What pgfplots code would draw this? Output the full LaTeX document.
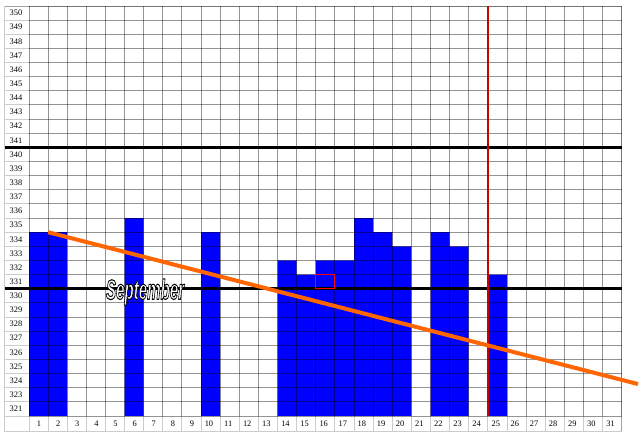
\documentclass[border=0pt]{standalone}
\usepackage{fontspec}
\setmainfont{Liberation Serif}
\newfontfamily\sepfont{Liberation Sans}
\usepackage{pgfplots}
\pgfplotsset{compat=1.18}

\definecolor{barblue}{RGB}{0,0,255}
\definecolor{trend}{RGB}{255,102,0}
\definecolor{redline}{RGB}{200,0,0}

% white letters with a black outline (text render mode 2)
\newcommand{\outlined}[1]{\textcolor{white}{\special{pdf:literal direct 0 G 0.8 w 1 j 2 Tr}#1\special{pdf:literal direct 0 Tr}}}

\begin{document}
\begin{tikzpicture}
\begin{axis}[
  scale only axis,width=444.5pt,height=307.5pt,
  xmin=0,xmax=31,ymin=0,ymax=29,
  hide axis,clip=false,
  ybar,bar width=1,
]
% bars: top of each column, in rows above the 321 row
\addplot[draw=none,fill=barblue] coordinates {
  (0.5,13) (1.5,13) (5.5,14) (9.5,13) (13.5,11) (14.5,10) (15.5,11)
  (16.5,11) (17.5,14) (18.5,13) (19.5,12) (21.5,13) (22.5,12) (24.5,10)
};
% grid
\pgfplotsinvokeforeach{0,...,31}{
  \draw[black,opacity=0.42,line width=0.7pt] (axis cs:#1,0) -- (axis cs:#1,29);
  \draw[black,opacity=0.2,line width=0.7pt] (axis cs:#1,-1.06) -- (axis cs:#1,0);
}
\pgfplotsinvokeforeach{0,...,29}{
  \draw[black,opacity=0.42,line width=0.7pt] (axis cs:0,#1) -- (axis cs:31,#1);
  \draw[black,opacity=0.2,line width=0.7pt] (axis cs:-1.26,#1) -- (axis cs:0,#1);
}
\draw[black,opacity=0.2,line width=0.7pt] (axis cs:-1.26,-1.06) rectangle (axis cs:31,29);
% row labels (the sheet skips 322)
\node[font=\fontsize{6.3}{7}\selectfont] at (axis cs:-0.68,0.5) {321};
\pgfplotsinvokeforeach{323,...,350}{
  \node[font=\fontsize{6.3}{7}\selectfont] at (axis cs:-0.68,#1-321.5) {#1};
}
% column labels
\pgfplotsinvokeforeach{1,...,31}{
  \node[font=\fontsize{6.3}{7}\selectfont,anchor=east] at (axis cs:#1-0.12,-0.53) {#1};
}
% reference lines
\draw[black,line width=2pt] (axis cs:-1.26,19) -- (axis cs:31,19);
\draw[black,line width=2pt] (axis cs:-1.26,9) -- (axis cs:31,9);
\draw[redline,line width=1.1pt] (axis cs:24,0) -- (axis cs:24,29);
\draw[red,line width=0.7pt] (axis cs:15,9) rectangle (axis cs:16,10);
% label
\node[font=\sepfont\bfseries\itshape\fontsize{21}{21}\selectfont,xscale=0.54]
  at (axis cs:6.07,8.77) {\outlined{September}};
% trend line
\addplot[trend,line width=3pt,sharp plot] coordinates {(1,13) (31.85,2.26)};
\coordinate (bbll) at (axis cs:-1.517,-1.344);
\coordinate (bbur) at (axis cs:31.958,29.424);
\end{axis}
\pgfresetboundingbox
\path[use as bounding box] (bbll) rectangle (bbur);
\end{tikzpicture}
\end{document}
